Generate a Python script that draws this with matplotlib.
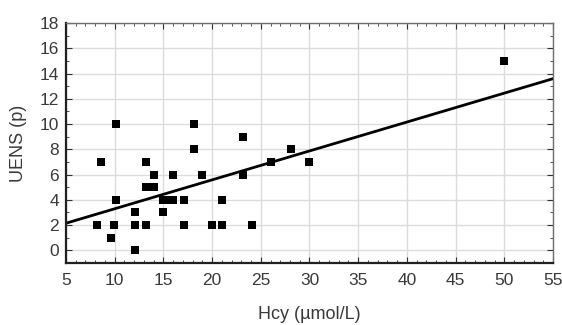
import numpy as np
import matplotlib
matplotlib.use("Agg")
import matplotlib.pyplot as plt
from matplotlib.ticker import MultipleLocator

plt.rcParams['font.family'] = ['Liberation Sans', 'DejaVu Sans']

# Hcy (umol/L) and UENS (p)
hcy = [8.6, 10.1, 8.2, 9.9, 9.6, 10.1, 12.1, 12.1, 12.1, 13.2, 13.2, 13.2, 13.6,
       14.0, 14.0, 15.0, 15.0, 15.2, 16.0, 16.0, 17.1, 17.1, 18.1, 18.1, 19.0,
       20.0, 21.0, 21.0, 23.2, 23.2, 24.1, 26.0, 28.1, 30.0, 50.0]
uens = [7, 10, 2, 2, 1, 4, 3, 2, 0, 7, 2, 5, 5,
        5, 6, 3, 4, 4, 6, 4, 4, 2, 10, 8, 6,
        2, 4, 2, 9, 6, 2, 7, 8, 7, 15]

# fitted regression line (intercept, slope)
fit_intercept = 1.0
fit_slope = 0.229

fig = plt.figure(figsize=(5.62, 3.25), dpi=100)
ax = fig.add_axes([0.1174, 0.191, 0.8666, 0.738])

ax.grid(True, color='#dcdcdc', linewidth=1.0, zorder=0)
ax.scatter(hcy, uens, marker='s', s=28, color='black', zorder=3, linewidths=0)

xs = np.array([5, 55])
ax.plot(xs, fit_intercept + fit_slope * xs, color='black', linewidth=2.0, zorder=2)

ax.set_xlim(5, 55)
ax.set_ylim(-1, 18)
ax.xaxis.set_major_locator(MultipleLocator(5))
ax.xaxis.set_minor_locator(MultipleLocator(1))
ax.yaxis.set_major_locator(MultipleLocator(2))
ax.yaxis.set_minor_locator(MultipleLocator(1))
ax.tick_params(which='both', direction='in', top=True, right=True,
               labelsize=12.5, labelcolor='#3a3a3a', color='#303030')
ax.tick_params(which='major', length=4)
ax.tick_params(which='minor', length=2)
ax.tick_params(axis='x', pad=7)
ax.tick_params(axis='y', pad=5)

for side in ['left', 'bottom']:
    ax.spines[side].set_linewidth(1.6)
    ax.spines[side].set_color('#202020')
for side in ['top', 'right']:
    ax.spines[side].set_linewidth(1.0)
    ax.spines[side].set_color('#707070')

ax.set_xlabel('Hcy (µmol/L)', fontsize=13, color='#3a3a3a', labelpad=13)
ax.set_ylabel('UENS (p)', fontsize=13, color='#3a3a3a', labelpad=9)

fig.savefig('out.png', dpi=100)
